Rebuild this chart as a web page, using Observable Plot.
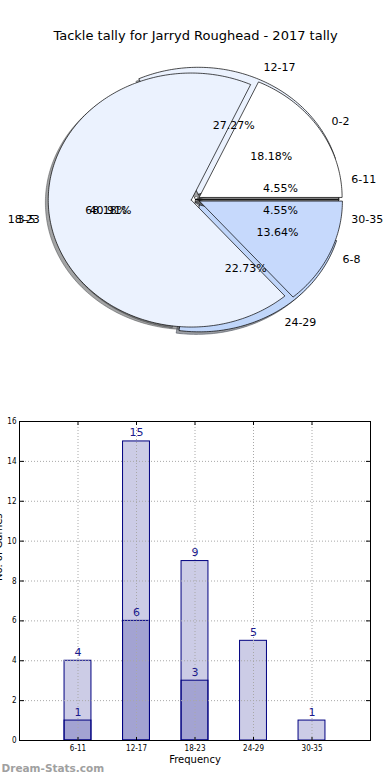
<!DOCTYPE html>
<html><head><meta charset="utf-8">
<script src="https://cdn.jsdelivr.net/npm/d3@7"></script>
<script src="https://cdn.jsdelivr.net/npm/@observablehq/plot@0.6"></script>
<style>body{margin:0;background:#fff;} svg{display:block}</style>
</head><body><div id="chart"></div>
<script>
const chartTitle = "Tackle tally for Jarryd Roughead - 2017 tally";
// first pie (drawn underneath)
const tallyBins = ["6-11", "12-17", "18-23", "24-29", "30-35"];
const tallyGames = [1, 6, 9, 5, 1];
// second pie (drawn on top)
const tackleBins = ["0-2", "3-5", "6-8"];
const tackleGames = [4, 15, 3];
// bar chart
const freqBins = ["6-11", "12-17", "18-23", "24-29", "30-35"];
const freqTotal = [4, 15, 9, 5, 1];
const freqSub = [1, 6, 3, 0, 0];
const yTicks = [0, 2, 4, 6, 8, 10, 12, 14, 16];
const xLabel = "Frequency";
const yLabel = "No. of Games";
const watermark = "Dream-Stats.com";

// ---------- styling / geometry ----------
const W = 390, H1 = 390, H2 = 390;
const RX = 143, RY = 127, CX = 195, CY = 199;
const tallyColors = ["#808080", "#ebf2fe", "#ffffff", "#c0d6fa", "#808080"];
const tallyExplode = [0, 0.045, 0, 0.05, 0];
const tackleColors = ["#ffffff", "#ebf2fe", "#c6d9fc"];
const tackleExplode = [0.03, 0.03, 0.03];
const FONT = "DejaVu Sans";

function pieSlices(labels, values, explode, colors) {
  const total = d3.sum(values);
  const ends = Array.from(d3.cumsum(values));
  return labels.map((label, i) => {
    const a1 = 2 * Math.PI * (ends[i] - values[i]) / total;
    const a2 = 2 * Math.PI * ends[i] / total;
    const am = (a1 + a2) / 2;
    const e = explode[i];
    const ox = e * Math.cos(am), oy = e * Math.sin(am);
    const n = Math.max(2, Math.ceil((a2 - a1) / (Math.PI / 180)));
    const pts = [[ox, oy]];
    for (let k = 0; k <= n; k++) {
      const a = a1 + (a2 - a1) * k / n;
      pts.push([ox + Math.cos(a), oy + Math.sin(a)]);
    }
    pts.push([ox, oy]);
    return {label, pct: 100 * values[i] / total, am, ox, oy, pts, color: colors[i],
      lx: ox + 1.1 * Math.cos(am), ly: oy + 1.1 * Math.sin(am),
      px: ox + 0.6 * Math.cos(am), py: oy + 0.6 * Math.sin(am)};
  });
}

const pieA = pieSlices(tallyBins, tallyGames, tallyExplode, tallyColors);
const pieB = pieSlices(tackleBins, tackleGames, tackleExplode, tackleColors);
const all = [...pieA, ...pieB];

function shadowOf(c) {
  const r = d3.rgb(c);
  return d3.rgb(r.r * 0.3, r.g * 0.3, r.b * 0.3).formatHex();
}

const pieMarks = [];
for (const s of all) {
  pieMarks.push(Plot.line(s.pts, {x: d => d[0] - 0.02, y: d => d[1] - 0.02,
    fill: shadowOf(s.color), fillOpacity: 0.5, stroke: shadowOf(s.color), strokeOpacity: 0.5, strokeWidth: 1}));
}
for (const s of all) {
  pieMarks.push(Plot.line(s.pts, {x: d => d[0], y: d => d[1], fill: s.color,
    stroke: "black", strokeWidth: 0.7}));
}
pieMarks.push(Plot.text(all.filter(s => s.lx >= 0), {x: "lx", y: "ly", text: "label", textAnchor: "start", fontSize: 11, fill: "black"}));
pieMarks.push(Plot.text(all.filter(s => s.lx < 0), {x: "lx", y: "ly", text: "label", textAnchor: "end", fontSize: 11, fill: "black"}));
pieMarks.push(Plot.text(all, {x: "px", y: "py", text: d => d.pct.toFixed(2) + "%", fontSize: 11, fill: "black"}));
pieMarks.push(Plot.text([chartTitle], {text: d => d, frameAnchor: "top", dy: 30, fontSize: 13, fill: "black"}));

const piePlot = Plot.plot({
  width: W, height: H1, margin: 0,
  style: {fontFamily: FONT, background: "white"},
  x: {axis: null, domain: [-CX / RX, (W - CX) / RX]},
  y: {axis: null, domain: [-(H1 - CY) / RY, CY / RY]},
  marks: pieMarks
});

// ---------- bar chart ----------
const barData = freqBins.map((bin, i) => ({bin, pos: i + 1, total: freqTotal[i], sub: freqSub[i]}));
const subData = barData.filter(d => d.sub > 0);
const ML = 19, MR = 20, MT = 31, MB = 40;
const FW = W - ML - MR, FH = H2 - MT - MB;
const HALF = 0.23;
const NAVY = "#000080";
const tickFont = "DejaVu Sans Condensed, DejaVu Sans";

const barPlot = Plot.plot({
  width: W, height: H2, marginLeft: ML, marginRight: MR, marginTop: MT, marginBottom: MB,
  style: {fontFamily: FONT, background: "white", overflow: "visible"},
  x: {domain: [0, 6]},
  y: {domain: [0, 16]},
  marks: [
    Plot.rect(barData, {x1: d => d.pos - HALF, x2: d => d.pos + HALF, y1: 0, y2: "total",
      fill: NAVY, fillOpacity: 0.2, stroke: NAVY, strokeWidth: 1}),
    Plot.rect(subData, {x1: d => d.pos - HALF, x2: d => d.pos + HALF, y1: 0, y2: "sub",
      fill: NAVY, fillOpacity: 0.2, stroke: NAVY, strokeWidth: 1}),
    Plot.gridY(yTicks.slice(1, -1), {stroke: "#a8a8a8", strokeOpacity: 1, strokeDasharray: "1,2", strokeWidth: 1}),
    Plot.gridX(barData.map(d => d.pos), {stroke: "#a8a8a8", strokeOpacity: 1, strokeDasharray: "1,2", strokeWidth: 1}),
    Plot.text(barData, {x: "pos", y: "total", text: d => String(d.total), lineAnchor: "bottom", dy: -5, fill: "#1a1a8c", fontSize: 11}),
    Plot.text(subData, {x: "pos", y: "sub", text: d => String(d.sub), lineAnchor: "bottom", dy: -5, fill: "#1a1a8c", fontSize: 11}),
    Plot.axisY(yTicks, {tickSize: 0, tickPadding: 3, fontSize: 8, fontFamily: tickFont, label: null}),
    Plot.axisY(yTicks, {anchor: "right", tickSize: 4, dx: -FW, tickFormat: () => "", label: null}),
    Plot.axisY(yTicks, {anchor: "left", tickSize: 4, dx: FW, tickFormat: () => "", label: null}),
    Plot.axisX(barData.map(d => d.pos), {tickSize: 0, tickPadding: 5, fontSize: 8, fontFamily: tickFont, tickFormat: d => freqBins[d - 1], label: null}),
    Plot.axisX(barData.map(d => d.pos), {anchor: "top", tickSize: 4, dy: FH, tickFormat: () => "", label: null}),
    Plot.axisX(barData.map(d => d.pos), {anchor: "bottom", tickSize: 4, dy: -FH, tickFormat: () => "", label: null}),
    Plot.frame({stroke: "black", strokeWidth: 1}),
    Plot.text([xLabel], {text: d => d, frameAnchor: "bottom", dy: 22, fontSize: 10, fill: "black"}),
    Plot.text([yLabel], {text: d => d, frameAnchor: "left", dx: -21, rotate: -90, fontSize: 10, fill: "black"}),
    Plot.text([watermark], {text: d => d, frameAnchor: "bottom-left", dx: -ML + 1, dy: 31, textAnchor: "start", fontSize: 10.5, fontWeight: "bold", fill: "#a0a0a0"})
  ]
});

const root = document.getElementById("chart");
root.appendChild(piePlot);
root.appendChild(barPlot);
</script>
</body></html>
